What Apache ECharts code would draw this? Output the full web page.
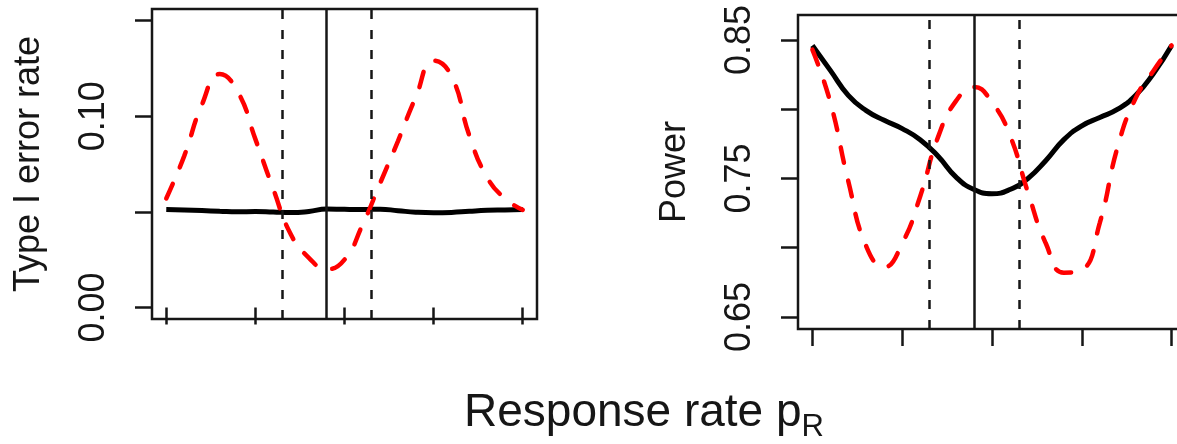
<!DOCTYPE html>
<html lang="en">
<head>
    <meta charset="UTF-8">
    <title>Type I error rate and power</title>
    <script src="https://cdn.jsdelivr.net/npm/echarts@6/dist/echarts.min.js"></script>
    <style>
        body{ margin: 0; background: #fff; }
        #main{ width: 1177px; height: 444px; }
    </style>
</head>
<body>
<div id="main"></div>
<script>
    // response rate grid (x), no tick labels drawn on the axis
    var pR = [0.20, 0.22, 0.24, 0.26, 0.28, 0.30, 0.32, 0.34, 0.36, 0.38, 0.40,
              0.42, 0.44, 0.46, 0.48, 0.50, 0.52, 0.54, 0.56, 0.58, 0.60];
    var xTicks = [0.2, 0.3, 0.4, 0.5, 0.6];
    // vertical reference lines
    var vDashed = [0.331, 0.430];
    var vSolid = 0.3815;

    // left panel: type I error rate
    var typeIBlack = [0.0512, 0.0510, 0.0507, 0.0503, 0.0500, 0.0502, 0.0499, 0.0496, 0.0502, 0.0515, 0.0513,
                      0.0512, 0.0514, 0.0506, 0.0498, 0.0495, 0.0497, 0.0503, 0.0508, 0.0510, 0.0512];
    var typeIRed = [0.057, 0.079, 0.106, 0.122, 0.113, 0.088, 0.062, 0.038, 0.026, 0.020, 0.025,
                    0.043, 0.065, 0.087, 0.110, 0.129, 0.121, 0.090, 0.068, 0.057, 0.051];
    var typeITicks = [0, 0.05, 0.10, 0.15];
    var typeILabels = [0, 0.10];

    // right panel: power
    var powerBlack = [0.846, 0.828, 0.810, 0.799, 0.792, 0.786, 0.778, 0.766, 0.751, 0.742, 0.739,
                      0.742, 0.750, 0.763, 0.778, 0.788, 0.794, 0.800, 0.810, 0.826, 0.846];
    var powerRed = [0.843, 0.805, 0.748, 0.701, 0.686, 0.703, 0.737, 0.780, 0.806, 0.816, 0.805,
                    0.781, 0.740, 0.703, 0.682, 0.684, 0.718, 0.773, 0.808, 0.828, 0.846];
    var powerTicks = [0.65, 0.70, 0.75, 0.80, 0.85];
    var powerLabels = [0.65, 0.75, 0.85];

    var font = "'Liberation Sans', Arial, sans-serif";
    var ink = '#161616';

    function pairs(ys){
        return pR.map(function(x, i){ return [x, ys[i]]; });
    }

    function xAxisFor(idx){
        return {
            gridIndex: idx, type: 'value', min: 0.184, max: 0.616,
            axisLine: {show: false},
            splitLine: {show: false},
            axisLabel: {show: false},
            axisTick: {show: true, length: 17, customValues: xTicks, lineStyle: {color: ink, width: 2.5}}
        };
    }

    function yAxisFor(idx, min, max, ticks, labels, name){
        return {
            gridIndex: idx, type: 'value', min: min, max: max,
            name: name, nameLocation: 'middle', nameRotate: 90, nameGap: 105,
            nameTextStyle: {fontFamily: font, fontSize: 36, color: ink},
            axisLine: {show: false},
            splitLine: {show: false},
            axisTick: {show: true, length: 17, customValues: ticks, lineStyle: {color: ink, width: 2.5}},
            axisLabel: {
                show: true, rotate: 90, margin: 40, customValues: labels,
                fontFamily: font, fontSize: 36, color: ink,
                formatter: function(v){ return Number(v).toFixed(2); }
            }
        };
    }

    function refLines(){
        return {
            symbol: 'none', silent: true, animation: false,
            label: {show: false},
            lineStyle: {width: 2.5, color: ink},
            emphasis: {disabled: true},
            data: [
                {xAxis: vDashed[0], lineStyle: {type: [9, 11], width: 2.5, color: ink}},
                {xAxis: vSolid, lineStyle: {type: 'solid', width: 2.5, color: ink}},
                {xAxis: vDashed[1], lineStyle: {type: [9, 11], width: 2.5, color: ink}}
            ]
        };
    }

    function blackSeries(idx, ys){
        return {
            type: 'line', xAxisIndex: idx, yAxisIndex: idx, data: pairs(ys),
            smooth: 0.5, showSymbol: false, z: 2,
            lineStyle: {color: '#000', width: 5},
            markLine: refLines()
        };
    }

    function redSeries(idx, ys){
        return {
            type: 'line', xAxisIndex: idx, yAxisIndex: idx, data: pairs(ys),
            smooth: 0.5, showSymbol: false, z: 3,
            lineStyle: {color: '#ff0000', width: 4.5, type: [16, 18], cap: 'round'}
        };
    }

    var chart = echarts.init(document.getElementById('main'), null, {renderer: 'canvas'});
    var option = {
        backgroundColor: '#fff',
        animation: false,
        title: {
            text: '{a|Response rate p}{b|R}',
            left: 464, top: 383, padding: 0,
            textStyle: {
                fontWeight: 'normal',
                rich: {
                    a: {fontFamily: font, fontSize: 46, fontWeight: 'normal', color: ink, lineHeight: 60},
                    b: {fontFamily: font, fontSize: 31, fontWeight: 'normal', color: ink, lineHeight: 30, verticalAlign: 'bottom'}
                }
            }
        },
        grid: [
            {left: 152, top: 9, width: 385, height: 310, show: true, borderColor: ink, borderWidth: 2.5, outerBoundsMode: 'none'},
            {left: 798, top: 15, width: 388, height: 314, show: true, borderColor: ink, borderWidth: 2.5, outerBoundsMode: 'none'}
        ],
        xAxis: [xAxisFor(0), xAxisFor(1)],
        yAxis: [
            yAxisFor(0, -0.006, 0.156, typeITicks, typeILabels, 'Type I error rate'),
            yAxisFor(1, 0.6413, 0.868, powerTicks, powerLabels, 'Power')
        ],
        series: [
            blackSeries(0, typeIBlack),
            redSeries(0, typeIRed),
            blackSeries(1, powerBlack),
            redSeries(1, powerRed)
        ]
    };
    chart.setOption(option);
</script>
</body>
</html>
